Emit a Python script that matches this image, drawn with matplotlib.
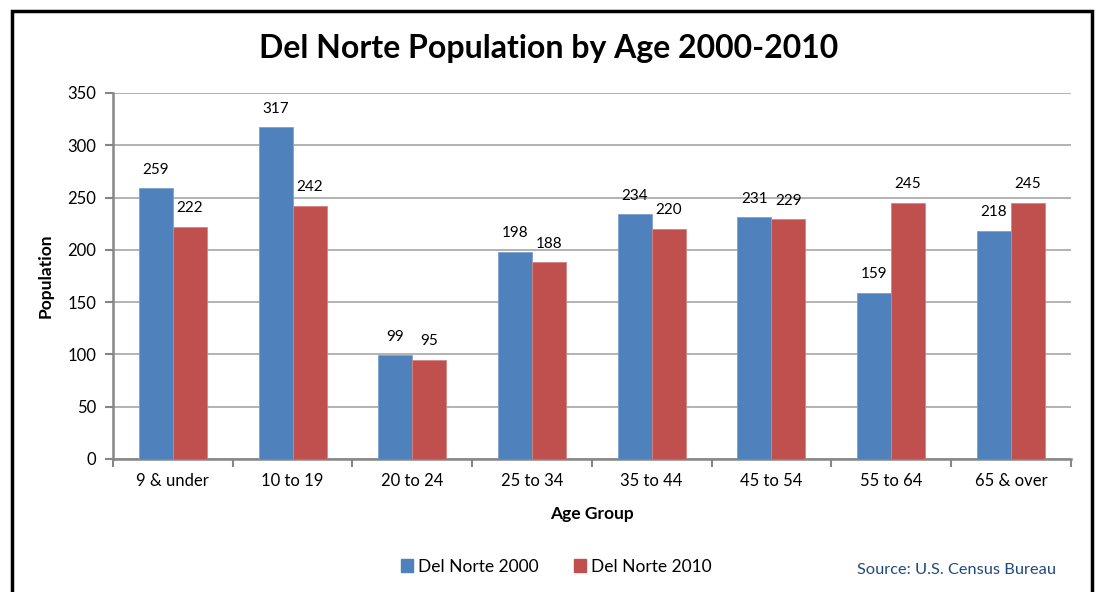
import matplotlib.pyplot as plt
import numpy as np
from matplotlib.patches import Rectangle, Patch

plt.rcParams['font.family'] = ['Lato', 'DejaVu Sans']

# data
age_groups = ['9 & under', '10 to 19', '20 to 24', '25 to 34',
              '35 to 44', '45 to 54', '55 to 64', '65 & over']
pop_2000 = [259, 317, 99, 198, 234, 231, 159, 218]
pop_2010 = [222, 242, 95, 188, 220, 229, 245, 245]

blue = '#4F81BD'
red = '#C0504D'
grey = '#868686'

fig = plt.figure(figsize=(10.97, 5.92), dpi=100)
ax = fig.add_axes([0.103, 0.2247, 0.873, 0.6183])

x = np.arange(len(age_groups))
w = 0.284
b1 = ax.bar(x - w / 2, pop_2000, w, color=blue, edgecolor='#7FA1CF', linewidth=0.6, zorder=3)
b2 = ax.bar(x + w / 2, pop_2010, w, color=red, edgecolor='#D48583', linewidth=0.6, zorder=3)

for bars in (b1, b2):
    for r in bars:
        ax.text(r.get_x() + r.get_width() / 2, r.get_height() + 11, str(int(r.get_height())),
                ha='center', va='bottom', fontsize=11)

ax.set_xlim(-0.5, len(age_groups) - 0.5)
ax.set_ylim(0, 350)
ax.set_yticks(range(0, 351, 50))
ax.yaxis.grid(True, color='#A6A6A6', linewidth=1.2, zorder=0)
ax.set_xticks(np.arange(-0.5, len(age_groups), 1))
ax.set_xticklabels([])
ax.set_xticks(x, minor=True)
ax.set_xticklabels(age_groups, minor=True, fontsize=12)
ax.tick_params(axis='x', which='minor', length=0, pad=10)
ax.tick_params(axis='x', which='major', length=6, color=grey, width=1.5, direction='out')
ax.tick_params(axis='y', length=6, color=grey, width=1.5, labelsize=12, pad=6)

for s in ('top', 'right'):
    ax.spines[s].set_visible(False)
for s in ('left', 'bottom'):
    ax.spines[s].set_color(grey)
    ax.spines[s].set_linewidth(1.8)

ax.set_ylabel('Population', fontsize=12.5, fontweight='bold', labelpad=10)
ax.set_xlabel('Age Group', fontsize=12.5, fontweight='bold', labelpad=12)

fig.text(0.5, 0.918, 'Del Norte Population by Age 2000-2010', ha='center', va='center',
         fontsize=23, fontweight='bold')

handles = [Patch(color=blue, label='Del Norte 2000'), Patch(color=red, label='Del Norte 2010')]
fig.legend(handles=handles, loc='center', bbox_to_anchor=(0.507, 0.043), ncol=2, frameon=False,
           fontsize=12.5, handlelength=0.7, handleheight=0.7, handletextpad=0.3, columnspacing=2.0)

fig.text(0.963, 0.037, 'Source: U.S. Census Bureau', ha='right', va='center',
         fontsize=11.8, color='#1F497D')

fig.patches.append(Rectangle((12 / 1097, -0.1), (1092 - 12) / 1097, 1 - 11 / 592 + 0.1,
                             transform=fig.transFigure, fill=False, edgecolor='black',
                             linewidth=2.5, zorder=10))

fig.savefig('out.png', dpi=100)
